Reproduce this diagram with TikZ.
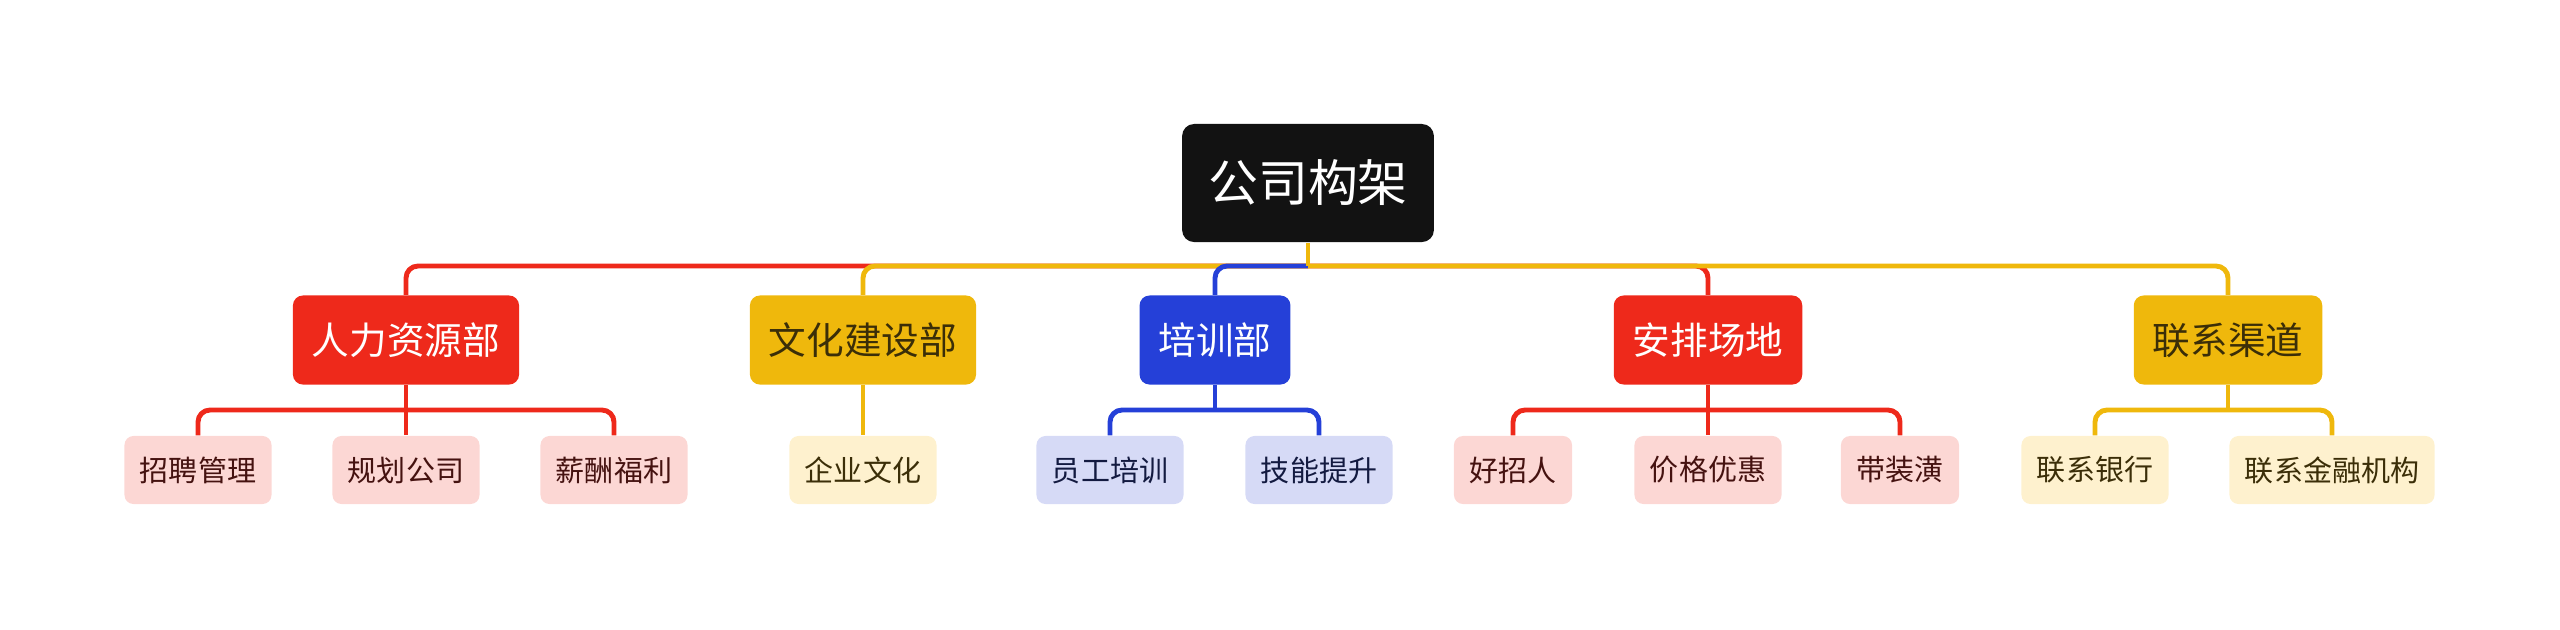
\documentclass[tikz,border=0pt]{standalone}
\usepackage{fontspec}
\setmainfont{Noto Sans CJK SC}
\definecolor{rd}{HTML}{EE291B}
\definecolor{yl}{HTML}{EFB80C}
\definecolor{bl}{HTML}{2540D8}
\definecolor{rdl}{HTML}{FCD7D4}
\definecolor{yll}{HTML}{FEF1CE}
\definecolor{bll}{HTML}{D6DAF6}
\definecolor{rdt}{HTML}{451210}
\definecolor{ylt}{HTML}{3B2E08}
\definecolor{blt}{HTML}{131A40}
\begin{document}
\begin{tikzpicture}[x=0.01cm, y=-0.01cm,
    root/.style={rectangle, rounded corners=0.12cm, fill=black!93, text=white, minimum height=1.18cm, inner xsep=0.26cm, font=\fontsize{14.2pt}{16pt}\selectfont},
    lv1/.style={rectangle, rounded corners=0.1cm, minimum height=0.89cm, inner xsep=0.19cm, font=\fontsize{10.7pt}{12pt}\selectfont},
    lv2/.style={rectangle, rounded corners=0.09cm, minimum height=0.68cm, inner xsep=0.155cm, font=\fontsize{8.25pt}{10pt}\selectfont},
    cn/.style={line width=1.4pt, rounded corners=0.12cm}
]
    \useasboundingbox (0,0) rectangle (2560,629);

    \node[root] (top) at (1308,183) {公司构架};

    \node[lv1, fill=rd, text=white] (hr) at (406,340) {人力资源部};
    \node[lv1, fill=yl, text=ylt] (cul) at (863,340) {文化建设部};
    \node[lv1, fill=bl, text=white] (trn) at (1215,340) {培训部};
    \node[lv1, fill=rd, text=white] (site) at (1708,340) {安排场地};
    \node[lv1, fill=yl, text=ylt] (con) at (2228,340) {联系渠道};

    \node[lv2, fill=rdl, text=rdt] (hr1) at (198,470) {招聘管理};
    \node[lv2, fill=rdl, text=rdt] (hr2) at (406,470) {规划公司};
    \node[lv2, fill=rdl, text=rdt] (hr3) at (614,470) {薪酬福利};
    \node[lv2, fill=yll, text=ylt] (cul1) at (863,470) {企业文化};
    \node[lv2, fill=bll, text=blt] (trn1) at (1110,470) {员工培训};
    \node[lv2, fill=bll, text=blt] (trn2) at (1319,470) {技能提升};
    \node[lv2, fill=rdl, text=rdt] (site1) at (1513,470) {好招人};
    \node[lv2, fill=rdl, text=rdt] (site2) at (1708,470) {价格优惠};
    \node[lv2, fill=rdl, text=rdt] (site3) at (1900,470) {带装潢};
    \node[lv2, fill=yll, text=ylt] (con1) at (2095,470) {联系银行};
    \node[lv2, fill=yll, text=ylt] (con2) at (2332,470) {联系金融机构};

    \coordinate (hub) at (1308,266);
    \draw[cn, rd] (hub) -| (hr.north);
    \draw[cn, rd] (hub) -| (site.north);
    \draw[cn, yl] (hub) -| (cul.north);
    \draw[cn, bl] (hub) -| (trn.north);
    \draw[cn, yl] (hub) -| (con.north);
    \draw[cn, yl] (top.south) -- (hub);

    \coordinate (hrj) at (406,410);
    \coordinate (trnj) at (1215,410);
    \coordinate (sitej) at (1708,410);
    \coordinate (conj) at (2228,410);
    \draw[cn, rd] (hr1.north) |- (hrj) -| (hr3.north);
    \draw[cn, rd] (hr.south) -- (hr2.north);
    \draw[cn, yl] (cul.south) -- (cul1.north);
    \draw[cn, bl] (trn1.north) |- (trnj) -| (trn2.north);
    \draw[cn, bl] (trn.south) -- (trnj);
    \draw[cn, rd] (site1.north) |- (sitej) -| (site3.north);
    \draw[cn, rd] (site.south) -- (site2.north);
    \draw[cn, yl] (con1.north) |- (conj) -| (con2.north);
    \draw[cn, yl] (con.south) -- (conj);
\end{tikzpicture}
\end{document}
